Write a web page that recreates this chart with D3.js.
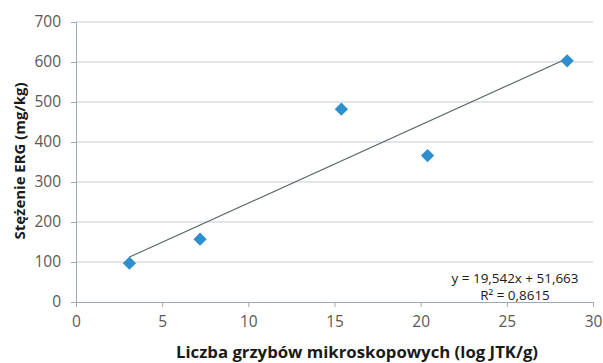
<!DOCTYPE html>
<html><head><meta charset="utf-8">
<script src="https://cdn.jsdelivr.net/npm/d3@7/dist/d3.min.js"></script>
<style>body{margin:0;background:#fff}svg{display:block}text{font-family:"Open Sans",sans-serif}</style>
</head><body>
<svg id="c" width="603" height="363"></svg>
<script>
const xValues = [3.1, 7.2, 15.4, 20.4, 28.5];
const yValues = [97, 157, 482, 366, 603];
const xTicks = [0, 5, 10, 15, 20, 25, 30];
const yTicks = [0, 100, 200, 300, 400, 500, 600, 700];
const slope = 19.542, intercept = 51.663;
const eqLabel = "y = 19,542x + 51,663";
const r2Label = "R² = 0,8615";
const xTitle = "Liczba grzybów mikroskopowych (log JTK/g)";
const yTitle = "Stężenie ERG (mg/kg)";

const svg = d3.select("#c");
const L = 76, R = 593, T = 22, B = 302;
const x = d3.scaleLinear().domain([0, 30]).range([L, R]);
const y = d3.scaleLinear().domain([0, 700]).range([B, T]);

function fitText(sel, target) {
  const n = sel.node();
  const fs = parseFloat(n.style.fontSize);
  const len = n.getComputedTextLength();
  sel.style("font-size", (fs * target / len).toFixed(2) + "px");
}

// gridlines
svg.append("g").selectAll("line").data(yTicks.filter(d => d > 0)).join("line")
  .attr("x1", L).attr("x2", R).attr("y1", d => y(d)).attr("y2", d => y(d))
  .attr("stroke", "#c6cdd3").attr("stroke-width", 1);

// axes
const axisColor = "#9aabb8";
const gx = svg.append("g").attr("transform", `translate(0,${B})`)
  .call(d3.axisBottom(x).tickValues(xTicks).tickSize(5).tickPadding(9).tickFormat(d3.format("d")));
const gy = svg.append("g").attr("transform", `translate(${L},0)`)
  .call(d3.axisLeft(y).tickValues(yTicks).tickSize(5).tickPadding(10).tickFormat(d3.format("d")));
[gx, gy].forEach(g => {
  g.select(".domain").attr("stroke", axisColor);
  g.selectAll(".tick line").attr("stroke", axisColor);
  g.selectAll(".tick text").attr("fill", "#595959").style("font-size", "15.5px").style("font-family", '"Open Sans",sans-serif');
});

// trendline
const x0 = d3.min(xValues), x1 = d3.max(xValues);
svg.append("line")
  .attr("x1", x(x0)).attr("y1", y(slope * x0 + intercept))
  .attr("x2", x(x1)).attr("y2", y(slope * x1 + intercept))
  .attr("stroke", "#5a6366").attr("stroke-width", 1.1);

// markers
const sym = d3.symbol().type(d3.symbolSquare).size(88);
svg.append("g").selectAll("path").data(xValues.map((v, i) => [v, yValues[i]])).join("path")
  .attr("d", sym)
  .attr("transform", d => `translate(${x(d[0])},${y(d[1])}) rotate(45)`)
  .attr("fill", "#2e8fce");

// equation
const eq = svg.append("text").attr("x", 515).attr("y", 283).attr("text-anchor", "middle")
  .attr("fill", "#1a1a1a").style("font-size", "13px").text(eqLabel);
fitText(eq, 127);
const r2 = svg.append("text").attr("x", 515).attr("y", 299.5).attr("text-anchor", "middle")
  .attr("fill", "#1a1a1a").style("font-size", eq.style("font-size")).text(r2Label);

// titles
const xt = svg.append("text").attr("x", 357).attr("y", 358).attr("text-anchor", "middle")
  .attr("fill", "#1a1a1a").style("font-size", "16px").style("font-weight", "bold").text(xTitle);
fitText(xt, 362);
const yt = svg.append("text").attr("transform", `translate(25,161) rotate(-90)`).attr("text-anchor", "middle")
  .attr("fill", "#1a1a1a").style("font-size", "13px").style("font-weight", "bold").text(yTitle);
fitText(yt, 157);
</script>
</body></html>
